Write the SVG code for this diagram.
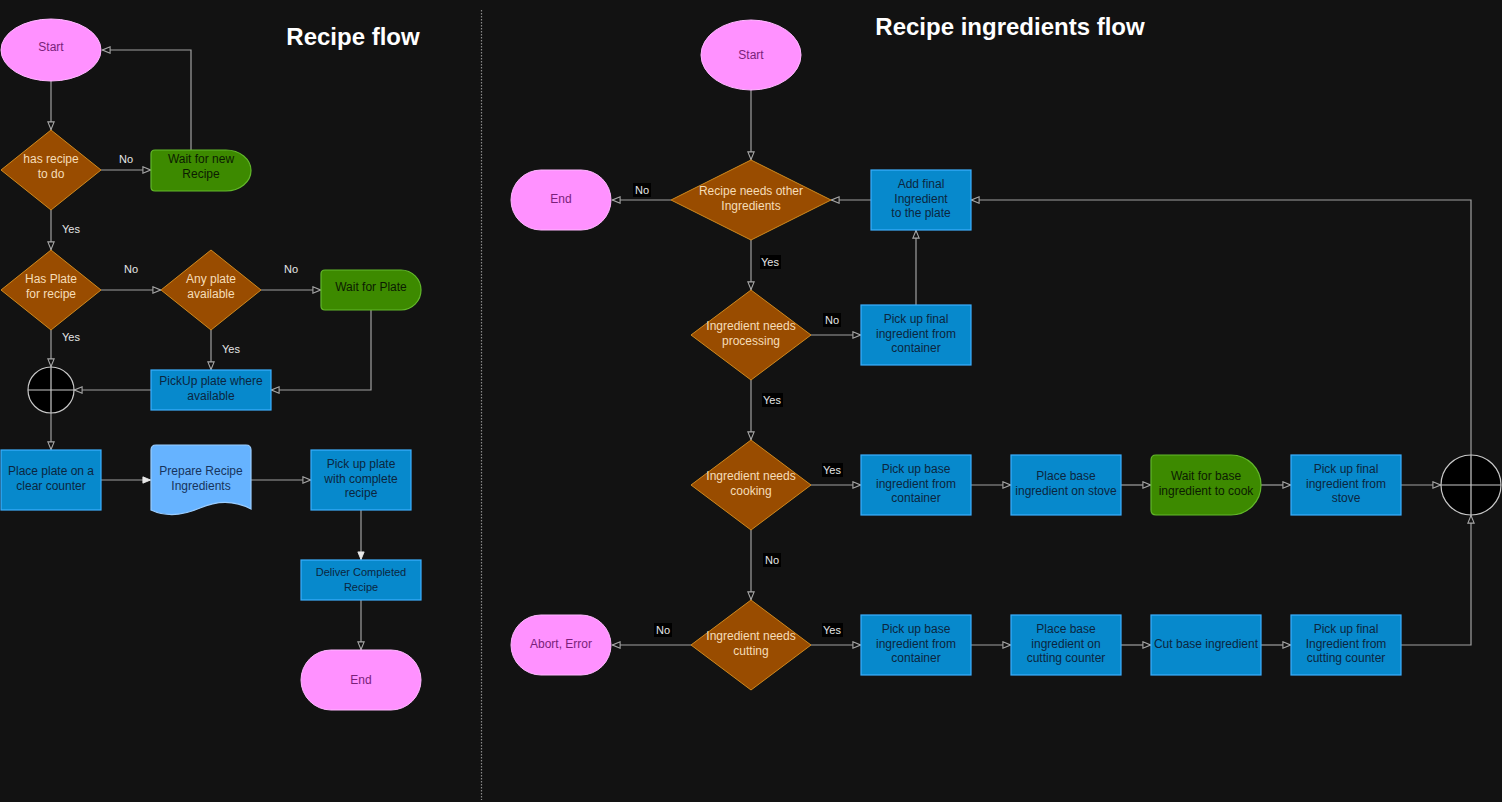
<svg xmlns="http://www.w3.org/2000/svg" width="1502" height="802" viewBox="0 0 1502 802">
<style>
text{font-family:"Liberation Sans",Arial,sans-serif;font-size:12px;text-anchor:middle}
.title{font-size:24px;font-weight:bold;fill:#ffffff}
.term{fill:#FF91FF;stroke:#FFB8FF;stroke-width:1}
.termt{fill:#7A1F7A}
.dec{fill:#994C00;stroke:#D08A1E;stroke-width:1}
.dect{fill:#F6DDB8}
.proc{fill:#0789CC;stroke:#3DB0FF;stroke-width:1.2}
.proct{fill:#0B2640}
.delay{fill:#3D8A00;stroke:#62B82A;stroke-width:1.2}
.delayt{fill:#0C1C02}
.doc{fill:#66B3FF;stroke:#9ACDFF;stroke-width:1.2}
.doct{fill:#17335C}
.junc{fill:#000000;stroke:#C8C8C8;stroke-width:1.2}
.edge{fill:none;stroke:#A0A0A0;stroke-width:1.2}
.lbl{font-size:11px;fill:#E6E6E6}
.lblbg{fill:#000000}
</style>
<defs>
<marker id="open" viewBox="0 0 10 10" refX="10" refY="5" markerWidth="9" markerHeight="9" markerUnits="userSpaceOnUse" orient="auto">
<path d="M1,1.5 L9.5,5 L1,8.5 Z" fill="#121212" stroke="#A8A8A8" stroke-width="1.2"/>
</marker>
<marker id="filled" viewBox="0 0 10 10" refX="10" refY="5" markerWidth="9" markerHeight="9" markerUnits="userSpaceOnUse" orient="auto">
<path d="M1,1.5 L9.5,5 L1,8.5 Z" fill="#E8E8E8" stroke="#E8E8E8" stroke-width="1"/>
</marker>
</defs>
<rect x="0" y="0" width="1502" height="802" fill="#121212"/>
<line x1="481.5" y1="10" x2="481.5" y2="800" stroke="#8A8A8A" stroke-width="1.2" stroke-dasharray="1.5 1.5"/>
<text class="title" x="353" y="45">Recipe flow</text>
<text class="title" x="1010" y="35">Recipe ingredients flow</text>

<g id="connectors">
<!-- left flow -->
<path class="edge" d="M51,81 V130" marker-end="url(#open)"/>
<path class="edge" d="M101,170 H151" marker-end="url(#open)"/>
<path class="edge" d="M191,150 V50 H102" marker-end="url(#open)"/>
<path class="edge" d="M51,210 V250" marker-end="url(#open)"/>
<path class="edge" d="M101,290 H161" marker-end="url(#open)"/>
<path class="edge" d="M261,290 H321" marker-end="url(#open)"/>
<path class="edge" d="M211,330 V370" marker-end="url(#open)"/>
<path class="edge" d="M371,310 V390 H271" marker-end="url(#open)"/>
<path class="edge" d="M151,390 H74" marker-end="url(#open)"/>
<path class="edge" d="M51,330 V367" marker-end="url(#open)"/>
<path class="edge" d="M51,413 V450" marker-end="url(#open)"/>
<path class="edge" d="M101,480 H151" marker-end="url(#filled)"/>
<path class="edge" d="M251,480 H311" marker-end="url(#open)"/>
<path class="edge" d="M361,510 V560" marker-end="url(#filled)"/>
<path class="edge" d="M361,600 V650" marker-end="url(#open)"/>
<text class="lbl" x="126" y="163">No</text>
<text class="lbl" x="71" y="233">Yes</text>
<text class="lbl" x="131" y="273">No</text>
<text class="lbl" x="291" y="273">No</text>
<text class="lbl" x="71" y="341">Yes</text>
<text class="lbl" x="231" y="353">Yes</text>
<!-- right flow -->
<path class="edge" d="M751,90 V160" marker-end="url(#open)"/>
<path class="edge" d="M671,200 H612" marker-end="url(#open)"/>
<path class="edge" d="M871,200 H831" marker-end="url(#open)"/>
<path class="edge" d="M1471,455 V200 H971" marker-end="url(#open)"/>
<path class="edge" d="M751,240 V290" marker-end="url(#open)"/>
<path class="edge" d="M811,335 H861" marker-end="url(#open)"/>
<path class="edge" d="M916,305 V230" marker-end="url(#open)"/>
<path class="edge" d="M751,380 V440" marker-end="url(#open)"/>
<path class="edge" d="M811,485 H861" marker-end="url(#open)"/>
<path class="edge" d="M971,485 H1011" marker-end="url(#open)"/>
<path class="edge" d="M1121,485 H1151" marker-end="url(#open)"/>
<path class="edge" d="M1261,485 H1291" marker-end="url(#open)"/>
<path class="edge" d="M1401,485 H1441" marker-end="url(#open)"/>
<path class="edge" d="M751,530 V600" marker-end="url(#open)"/>
<path class="edge" d="M691,645 H612" marker-end="url(#open)"/>
<path class="edge" d="M811,645 H861" marker-end="url(#open)"/>
<path class="edge" d="M971,645 H1011" marker-end="url(#open)"/>
<path class="edge" d="M1121,645 H1151" marker-end="url(#open)"/>
<path class="edge" d="M1261,645 H1291" marker-end="url(#open)"/>
<path class="edge" d="M1401,645 H1471 V515" marker-end="url(#open)"/>
<rect class="lblbg" x="633" y="183" width="18" height="14"/>
<text class="lbl" x="642" y="194">No</text>
<rect class="lblbg" x="760" y="255" width="21" height="14"/>
<text class="lbl" x="770" y="266">Yes</text>
<rect class="lblbg" x="823" y="313" width="18" height="14"/>
<text class="lbl" x="832" y="324">No</text>
<rect class="lblbg" x="762" y="393" width="21" height="14"/>
<text class="lbl" x="772" y="404">Yes</text>
<rect class="lblbg" x="822" y="463" width="21" height="14"/>
<text class="lbl" x="832" y="474">Yes</text>
<rect class="lblbg" x="763" y="553" width="18" height="14"/>
<text class="lbl" x="772" y="564">No</text>
<rect class="lblbg" x="654" y="623" width="18" height="14"/>
<text class="lbl" x="663" y="634">No</text>
<rect class="lblbg" x="822" y="623" width="21" height="14"/>
<text class="lbl" x="832" y="634">Yes</text>
</g>

<!-- left nodes -->
<g id="l-start"><ellipse class="term" cx="51" cy="50" rx="50" ry="31"/><text class="termt" x="51" y="51">Start</text></g>
<g id="l-has-recipe"><path class="dec" d="M51,130 L101,170 L51,210 L1,170 Z"/><text class="dect" x="51" y="163">has recipe</text><text class="dect" x="51" y="178">to do</text></g>
<g id="l-wait-recipe"><path class="delay" d="M155,150 H226 A25,20.5 0 0 1 226,191 H155 Q151,191 151,187 V154 Q151,150 155,150 Z"/><text class="delayt" x="201" y="163">Wait for new</text><text class="delayt" x="201" y="178">Recipe</text></g>
<g id="l-has-plate"><path class="dec" d="M51,250 L101,290 L51,330 L1,290 Z"/><text class="dect" x="51" y="283">Has Plate</text><text class="dect" x="51" y="298">for recipe</text></g>
<g id="l-any-plate"><path class="dec" d="M211,250 L261,290 L211,330 L161,290 Z"/><text class="dect" x="211" y="283">Any plate</text><text class="dect" x="211" y="298">available</text></g>
<g id="l-wait-plate"><path class="delay" d="M325,270 H401 A20,20 0 0 1 401,310 H325 Q321,310 321,306 V274 Q321,270 325,270 Z"/><text class="delayt" x="371" y="291">Wait for Plate</text></g>
<g id="l-pickup-plate"><rect class="proc" x="151" y="370" width="120" height="40"/><text class="proct" x="211" y="385">PickUp plate where</text><text class="proct" x="211" y="400">available</text></g>
<g id="l-junction"><circle class="junc" cx="51" cy="390" r="23"/><path d="M28,390 H74 M51,367 V413" stroke="#C8C8C8" stroke-width="1.2"/></g>
<g id="l-place-plate"><rect class="proc" x="1" y="450" width="100" height="60"/><text class="proct" x="51" y="475">Place plate on a</text><text class="proct" x="51" y="490">clear counter</text></g>
<g id="l-prepare"><path class="doc" d="M151,450 Q151,445 156,445 H246 Q251,445 251,450 V509 C234,500 216,501 200,508 C184,515 166,517 151,510 Z"/><text class="doct" x="201" y="475">Prepare Recipe</text><text class="doct" x="201" y="490">Ingredients</text></g>
<g id="l-pickup-complete"><rect class="proc" x="311" y="450" width="100" height="60"/><text class="proct" x="361" y="468">Pick up plate</text><text class="proct" x="361" y="483">with complete</text><text class="proct" x="361" y="497">recipe</text></g>
<g id="l-deliver"><rect class="proc" x="301" y="560" width="120" height="40"/><text class="proct" x="361" y="576" style="font-size:11px">Deliver Completed</text><text class="proct" x="361" y="591" style="font-size:11px">Recipe</text></g>
<g id="l-end"><rect class="term" x="301" y="650" width="120" height="60" rx="30" ry="30"/><text class="termt" x="361" y="684">End</text></g>

<!-- right nodes -->
<g id="r-start"><ellipse class="term" cx="751" cy="55" rx="50" ry="35"/><text class="termt" x="751" y="59">Start</text></g>
<g id="r-needs-other"><path class="dec" d="M751,160 L831,200 L751,240 L671,200 Z"/><text class="dect" x="751" y="195">Recipe needs other</text><text class="dect" x="751" y="210">Ingredients</text></g>
<g id="r-end"><rect class="term" x="511" y="170" width="100" height="60" rx="30" ry="30"/><text class="termt" x="561" y="203">End</text></g>
<g id="r-add-final"><rect class="proc" x="871" y="170" width="100" height="60"/><text class="proct" x="921" y="188">Add final</text><text class="proct" x="921" y="203">Ingredient</text><text class="proct" x="921" y="217">to the plate</text></g>
<g id="r-needs-processing"><path class="dec" d="M751,290 L811,335 L751,380 L691,335 Z"/><text class="dect" x="751" y="330">Ingredient needs</text><text class="dect" x="751" y="345">processing</text></g>
<g id="r-pickup-final-container"><rect class="proc" x="861" y="305" width="110" height="60"/><text class="proct" x="916" y="323">Pick up final</text><text class="proct" x="916" y="338">ingredient from</text><text class="proct" x="916" y="352">container</text></g>
<g id="r-needs-cooking"><path class="dec" d="M751,440 L811,485 L751,530 L691,485 Z"/><text class="dect" x="751" y="480">Ingredient needs</text><text class="dect" x="751" y="495">cooking</text></g>
<g id="r-pickup-base-cook"><rect class="proc" x="861" y="455" width="110" height="60"/><text class="proct" x="916" y="473">Pick up base</text><text class="proct" x="916" y="488">ingredient from</text><text class="proct" x="916" y="502">container</text></g>
<g id="r-place-stove"><rect class="proc" x="1011" y="455" width="110" height="60"/><text class="proct" x="1066" y="480">Place base</text><text class="proct" x="1066" y="495">ingredient on stove</text></g>
<g id="r-wait-cook"><path class="delay" d="M1156,455 H1231 A30,30 0 0 1 1231,515 H1156 Q1151,515 1151,510 V460 Q1151,455 1156,455 Z"/><text class="delayt" x="1206" y="480">Wait for base</text><text class="delayt" x="1206" y="495">ingredient to cook</text></g>
<g id="r-pickup-final-stove"><rect class="proc" x="1291" y="455" width="110" height="60"/><text class="proct" x="1346" y="473">Pick up final</text><text class="proct" x="1346" y="488">ingredient from</text><text class="proct" x="1346" y="502">stove</text></g>
<g id="r-junction"><circle class="junc" cx="1471" cy="485" r="30"/><path d="M1441,485 H1501 M1471,455 V515" stroke="#C8C8C8" stroke-width="1.2"/></g>
<g id="r-needs-cutting"><path class="dec" d="M751,600 L811,645 L751,690 L691,645 Z"/><text class="dect" x="751" y="640">Ingredient needs</text><text class="dect" x="751" y="655">cutting</text></g>
<g id="r-abort"><rect class="term" x="511" y="615" width="100" height="60" rx="30" ry="30"/><text class="termt" x="561" y="648">Abort, Error</text></g>
<g id="r-pickup-base-cut"><rect class="proc" x="861" y="615" width="110" height="60"/><text class="proct" x="916" y="633">Pick up base</text><text class="proct" x="916" y="648">ingredient from</text><text class="proct" x="916" y="662">container</text></g>
<g id="r-place-cutting"><rect class="proc" x="1011" y="615" width="110" height="60"/><text class="proct" x="1066" y="633">Place base</text><text class="proct" x="1066" y="648">ingredient on</text><text class="proct" x="1066" y="662">cutting counter</text></g>
<g id="r-cut"><rect class="proc" x="1151" y="615" width="110" height="60"/><text class="proct" x="1206" y="648">Cut base ingredient</text></g>
<g id="r-pickup-final-cut"><rect class="proc" x="1291" y="615" width="110" height="60"/><text class="proct" x="1346" y="633">Pick up final</text><text class="proct" x="1346" y="648">Ingredient from</text><text class="proct" x="1346" y="662">cutting counter</text></g>
</svg>
